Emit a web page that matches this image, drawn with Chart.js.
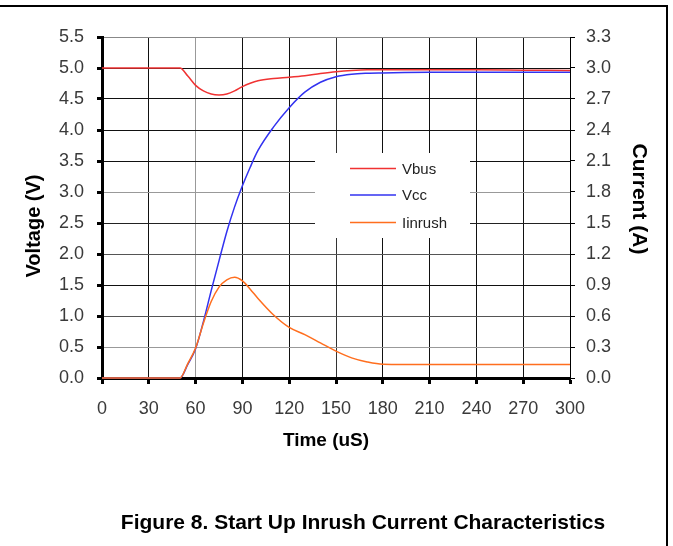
<!DOCTYPE html>
<html><head><meta charset="utf-8">
<script src="https://cdn.jsdelivr.net/npm/chart.js@4.4.0/dist/chart.umd.min.js"></script>
<style>
html,body{margin:0;padding:0;background:#fff;}
#wrap{position:relative;width:673px;height:546px;overflow:hidden;background:#fff;}
#c{position:absolute;left:0;top:0;}
#frame{position:absolute;left:-3px;top:5px;width:671px;height:600px;border-top:2px solid #000;border-right:2px solid #000;box-sizing:border-box;pointer-events:none;}
#cap{position:absolute;left:0;width:726px;top:510px;text-align:center;font:bold 21px "Liberation Sans",Arial,sans-serif;color:#000;white-space:nowrap;}
</style></head>
<body><div id="wrap"><canvas id="c" width="673" height="546"></canvas><div id="frame"></div><div id="cap">Figure 8. Start Up Inrush Current Characteristics</div></div>
<script>
// time (uS)
const times   = [0, 25, 50, 55, 60, 65, 70, 75, 80, 85, 90, 95, 100, 110, 120, 130, 140, 150, 160, 170, 180, 210, 240, 270, 300];
// Vbus (V)
const vbus    = [5.0, 5.0, 5.0, 4.87, 4.72, 4.63, 4.58, 4.565, 4.58, 4.63, 4.70, 4.755, 4.795, 4.83, 4.85, 4.875, 4.91, 4.94, 4.96, 4.97, 4.97, 4.97, 4.97, 4.965, 4.96];
// Vcc (V)
const vcc     = [0, 0, 0, 0.22, 0.47, 0.91, 1.41, 1.89, 2.36, 2.76, 3.10, 3.40, 3.67, 4.05, 4.36, 4.61, 4.77, 4.86, 4.90, 4.915, 4.92, 4.93, 4.93, 4.93, 4.93];
// Iinrush (A)
const iinrush = [0, 0, 0, 0.14, 0.29, 0.53, 0.74, 0.88, 0.95, 0.975, 0.94, 0.86, 0.77, 0.61, 0.49, 0.42, 0.34, 0.26, 0.195, 0.155, 0.133, 0.13, 0.13, 0.13, 0.13];
const seriesLabels = ['Vbus', 'Vcc', 'Iinrush'];
const axisTitles = {x: 'Time (uS)', y: 'Voltage (V)', y1: 'Current (A)'};
const xTickStep = 30, vTickStep = 0.5, iTickStep = 0.3;
const xMax = 300, vMax = 5.5, iMax = 3.3;

const FONT = '"Liberation Sans", Arial, sans-serif';
const vGrid = ['#000','#999','#555','#111','#555','#222','#999','#111','#111','#111','#111','#888'];
const tGrid = ['#000','#111','#999','#111','#111','#333','#111','#111','#111','#111','#000'];

const pts = arr => times.map((t, i) => ({x: t, y: arr[i]}));

const boxLegend = {
  id: 'boxLegend',
  beforeDatasetsDraw(chart) {
    const {ctx, chartArea: a} = chart;
    const x0 = a.left + 213, y0 = a.top + 116;
    ctx.save();
    ctx.fillStyle = '#fff';
    ctx.fillRect(x0, y0, 155, 85);
    const rows = [15.5, 42, 69.5];
    chart.data.datasets.forEach((d, i) => {
      const y = y0 + rows[i];
      ctx.strokeStyle = d.borderColor;
      ctx.lineWidth = 1.5;
      ctx.beginPath(); ctx.moveTo(x0 + 35, y); ctx.lineTo(x0 + 81, y); ctx.stroke();
      ctx.fillStyle = '#222';
      ctx.font = '15px ' + FONT;
      ctx.textBaseline = 'middle';
      ctx.textAlign = 'left';
      ctx.fillText(d.label, x0 + 87, y + 1);
    });
    ctx.restore();
  },
  afterDraw(chart) {
    const {ctx, chartArea: a} = chart;
    ctx.save();
    ctx.fillStyle = '#000';
    ctx.textAlign = 'center';
    ctx.textBaseline = 'middle';
    ctx.font = 'bold 19px ' + FONT;
    ctx.fillText(axisTitles.x, a.left + 224, a.bottom + 63);
    ctx.save();
    ctx.translate(34, a.top + 189);
    ctx.rotate(-Math.PI / 2);
    ctx.font = 'bold 20px ' + FONT;
    ctx.fillText(axisTitles.y, 0, 0);
    ctx.restore();
    ctx.save();
    ctx.translate(639, a.top + 162);
    ctx.rotate(Math.PI / 2);
    ctx.font = 'bold 21px ' + FONT;
    ctx.fillText(axisTitles.y1, 0, 0);
    ctx.restore();
    ctx.restore();
  }
};

new Chart(document.getElementById('c'), {
  type: 'line',
  data: {
    datasets: [
      {label: seriesLabels[0], data: pts(vbus), yAxisID: 'y', order: 1, clip: 6, borderColor: 'rgb(240,50,50)', borderWidth: 1.5, pointRadius: 0, cubicInterpolationMode: 'monotone', fill: false},
      {label: seriesLabels[1], data: pts(vcc), yAxisID: 'y', order: 2, clip: 6, borderColor: 'rgb(50,50,240)', borderWidth: 1.5, pointRadius: 0, cubicInterpolationMode: 'monotone', fill: false},
      {label: seriesLabels[2], data: pts(iinrush), yAxisID: 'y1', order: 0, clip: 6, borderColor: 'rgb(255,110,30)', borderWidth: 1.5, pointRadius: 0, cubicInterpolationMode: 'monotone', fill: false}
    ]
  },
  options: {
    responsive: false,
    animation: false,
    events: [],
    layout: {padding: {top: 37, left: 0, right: 0, bottom: 0}},
    plugins: {legend: {display: false}, tooltip: {enabled: false}},
    scales: {
      x: {
        type: 'linear', position: 'bottom', min: 0, max: xMax,
        ticks: {stepSize: xTickStep, padding: 14, color: '#3a3a3a', font: {family: FONT, size: 18}, maxRotation: 0, autoSkip: false},
        grid: {color: c => tGrid[c.index] || '#111', lineWidth: 1, tickLength: 6, tickWidth: 3, tickColor: '#000'},
        border: {color: '#000', width: 3},
        afterFit: s => { s.height = 168; }
      },
      y: {
        position: 'left', min: 0, max: vMax,
        ticks: {stepSize: vTickStep, padding: 13, color: '#3a3a3a', font: {family: FONT, size: 18}, callback: v => v.toFixed(1)},
        grid: {color: c => vGrid[c.index] || '#111', lineWidth: 1, tickLength: 5, tickWidth: 3, tickColor: '#000'},
        border: {color: '#000', width: 3},
        afterFit: s => { s.width = 102; }
      },
      y1: {
        position: 'right', min: 0, max: iMax,
        ticks: {stepSize: iTickStep, padding: 11, color: '#3a3a3a', font: {family: FONT, size: 18}, callback: v => v.toFixed(1)},
        grid: {drawOnChartArea: false, tickLength: 5, tickWidth: 1, tickColor: '#000'},
        border: {color: '#000', width: 1},
        afterFit: s => { s.width = 103; }
      }
    }
  },
  plugins: [boxLegend]
});
</script>
</body></html>
